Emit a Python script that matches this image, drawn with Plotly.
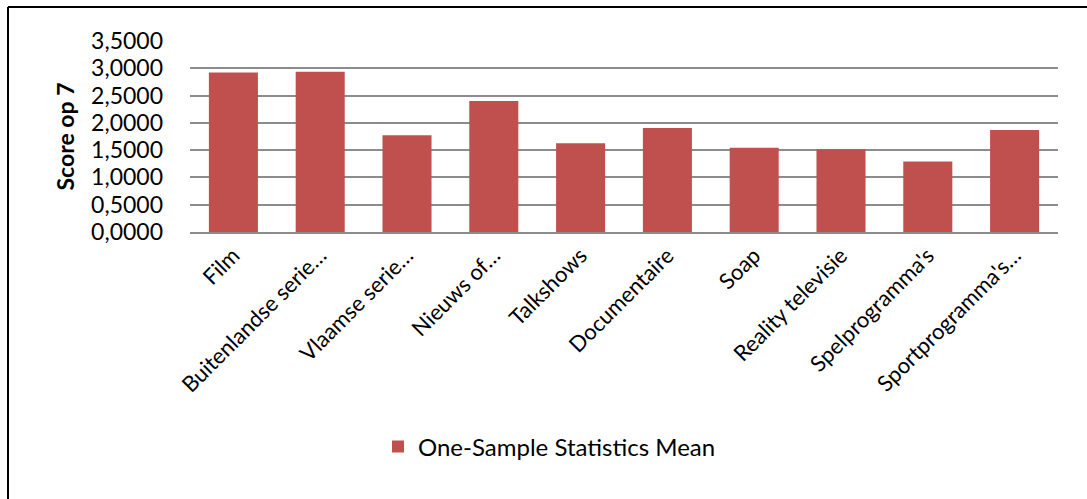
import plotly.graph_objects as go

categories = [
    "Film",
    "Buitenlandse serie…",
    "Vlaamse serie…",
    "Nieuws of…",
    "Talkshows",
    "Documentaire",
    "Soap",
    "Reality televisie",
    "Spelprogramma's",
    "Sportprogramma's…",
]
means = [2.925, 2.935, 1.775, 2.400, 1.625, 1.905, 1.545, 1.515, 1.290, 1.870]
y_ticks = [0, 0.5, 1.0, 1.5, 2.0, 2.5, 3.0, 3.5]
y_tick_text = ["0,0000", "0,5000", "1,0000", "1,5000", "2,0000", "2,5000", "3,0000", "3,5000"]
series_name = "One-Sample Statistics Mean"

FONT = "Lato, 'Open Sans', sans-serif"
GRID = "#8c8c8c"

fig = go.Figure(
    go.Bar(
        x=categories,
        y=means,
        name=series_name,
        marker=dict(color="#C0504D", line=dict(width=0)),
        showlegend=True,
    )
)

W, H = 1087, 499
L, R, T, B = 190, 29, 41, 267
pw, ph = W - L - R, H - T - B

def px_x(p):
    return (p - L) / pw

def px_y(p):
    return (H - B - p) / ph

fig.update_layout(
    width=W,
    height=H,
    margin=dict(l=L, r=R, t=T, b=B, autoexpand=False),
    paper_bgcolor="white",
    plot_bgcolor="white",
    font=dict(family=FONT, size=22, color="black"),
    bargap=0.435,
    showlegend=True,
    legend=dict(
        orientation="h",
        x=px_x(378),
        xanchor="left",
        y=px_y(447),
        yanchor="middle",
        font=dict(family=FONT, size=24, color="black"),
        itemwidth=30,
        bgcolor="rgba(0,0,0,0)",
    ),
    xaxis=dict(
        tickangle=-45,
        showgrid=False,
        showline=True,
        linecolor=GRID,
        linewidth=2,
        ticks="",
        tickfont=dict(family=FONT, size=22, color="black"),
        fixedrange=True,
    ),
    yaxis=dict(
        range=[0, 3.5],
        tickvals=y_ticks,
        ticktext=y_tick_text,
        showgrid=True,
        gridcolor=GRID,
        gridwidth=2,
        zeroline=False,
        showline=False,
        ticks="",
        ticklabelstandoff=26,
        tickfont=dict(family=FONT, size=23, color="black"),
        title=dict(
            text="<b>Score op 7</b>",
            font=dict(family=FONT, size=23, color="black"),
            standoff=10,
        ),
        fixedrange=True,
    ),
    shapes=[
        # chart frame: top and left edges
        dict(type="line", xref="paper", yref="paper",
             x0=px_x(8), x1=px_x(1100), y0=px_y(7), y1=px_y(7),
             line=dict(color="black", width=2)),
        dict(type="line", xref="paper", yref="paper",
             x0=px_x(8), x1=px_x(8), y0=px_y(7), y1=px_y(520),
             line=dict(color="black", width=2)),
    ],
)

fig.write_html("out.html")
